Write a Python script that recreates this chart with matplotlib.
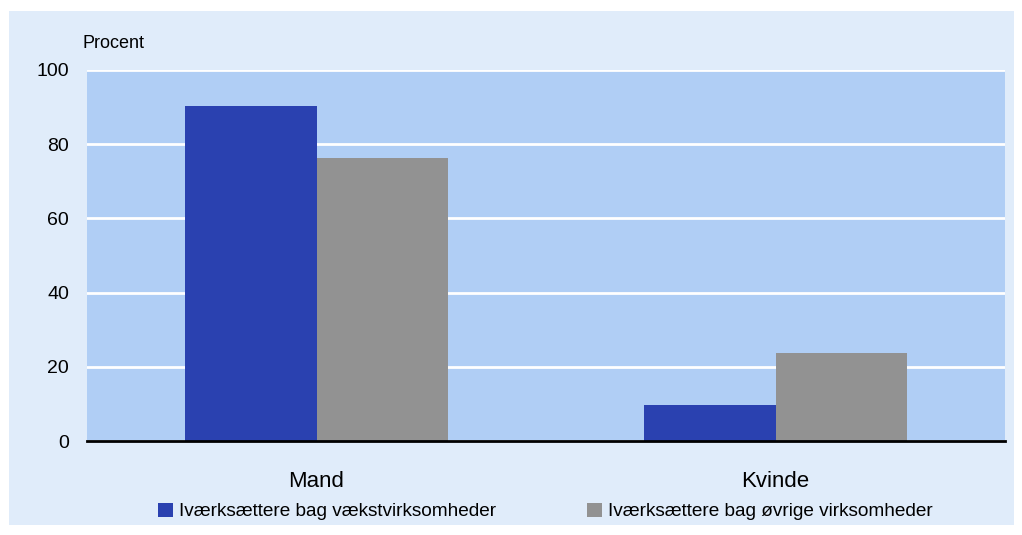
import matplotlib
matplotlib.use("Agg")
import matplotlib.pyplot as plt
from matplotlib.patches import Rectangle
import numpy as np

plt.rcParams['font.family'] = ['Liberation Sans', 'DejaVu Sans']

kategorier = ["Mand", "Kvinde"]
vaekst = [90.4, 9.7]
oevrige = [76.4, 23.7]
serier = ["Iværksættere bag vækstvirksomheder", "Iværksættere bag øvrige virksomheder"]
yticks = [0, 20, 40, 60, 80, 100]

blaa = "#2a41b0"
graa = "#929292"
ydre_bg = "#e0ecfa"
plot_bg = "#b0cef5"

fig = plt.figure(figsize=(10.22, 5.35), dpi=100)
fig.patch.set_facecolor("white")
fig.add_artist(Rectangle((9 / 1022, 1 - 525 / 535), (1014 - 9) / 1022, (525 - 11) / 535,
                         transform=fig.transFigure, facecolor=ydre_bg, edgecolor="none", zorder=-10))

ax = fig.add_axes([87 / 1022, 1 - 441 / 535, (1005 - 87) / 1022, (441 - 70) / 535])
ax.set_facecolor(plot_bg)

x = np.arange(len(kategorier))
w = 0.287
ax.bar(x - w / 2, vaekst, width=w, color=blaa, label=serier[0], zorder=3)
ax.bar(x + w / 2, oevrige, width=w, color=graa, label=serier[1], zorder=3)

ax.set_xlim(-0.5, 1.5)
ax.set_ylim(0, 100)
ax.set_yticks(yticks)
ax.set_yticklabels([str(t) for t in yticks], fontsize=14)
ax.set_xticks(x)
ax.set_xticklabels(kategorier, fontsize=16)
ax.tick_params(axis="both", length=0)
ax.tick_params(axis="y", pad=13)
ax.tick_params(axis="x", pad=21.5)
ax.grid(axis="y", color="white", linewidth=2, zorder=1)
for s in ["left", "right", "top"]:
    ax.spines[s].set_visible(False)
ax.spines["bottom"].set_color("black")
ax.spines["bottom"].set_linewidth(2)
ax.spines["bottom"].set_zorder(4)

fig.text(82 / 1022, 1 - 44 / 535, "Procent", fontsize=13, va="center", ha="left")

leg = ax.legend(loc="center left", bbox_to_anchor=(158 / 1022, 1 - 511.5 / 535), bbox_transform=fig.transFigure,
                ncol=2, frameon=False, fontsize=13.7, handlelength=0.8, handleheight=0.8,
                handletextpad=0.28, columnspacing=4.8, borderpad=0, borderaxespad=0)

fig.savefig("out.png", dpi=100)
